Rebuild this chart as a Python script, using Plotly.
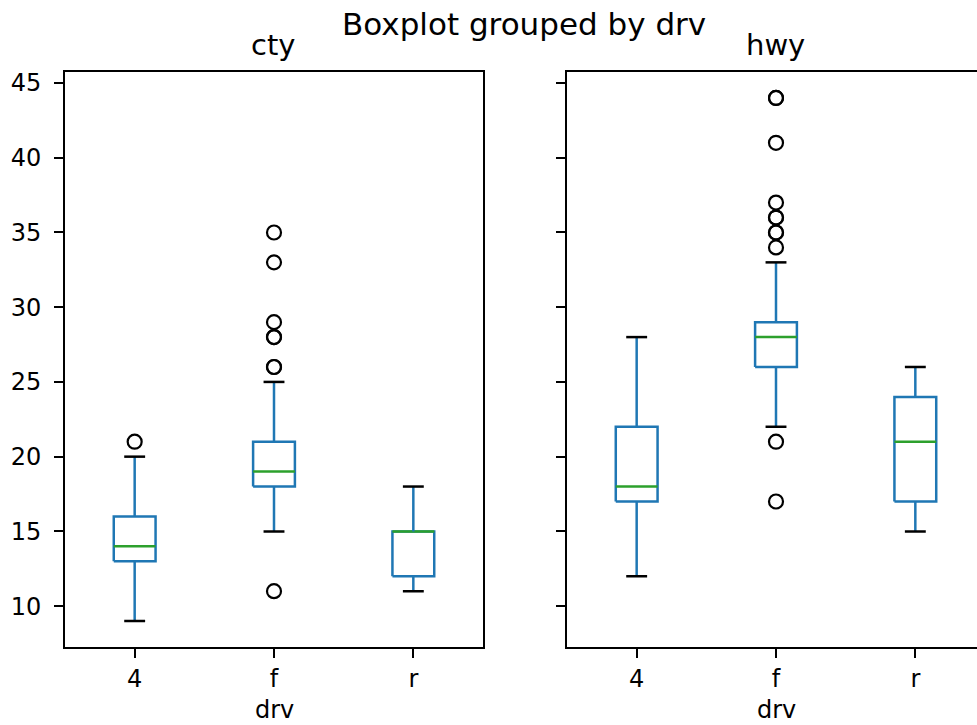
import plotly.graph_objects as go

# Drive-train groups shown on each panel
drv = ["4", "f", "r"]
positions = [1, 2, 3]

# City mileage (cty) box statistics per drive train
cty_whislo = [9, 15, 11]
cty_q1 = [13, 18, 12]
cty_med = [14, 19, 15]
cty_q3 = [16, 21, 15]
cty_whishi = [20, 25, 18]
cty_fliers = [[21], [11, 26, 26, 28, 28, 29, 33, 35], []]

# Highway mileage (hwy) box statistics per drive train
hwy_whislo = [12, 22, 15]
hwy_q1 = [17, 26, 17]
hwy_med = [18, 28, 21]
hwy_q3 = [22, 29, 24]
hwy_whishi = [28, 33, 26]
hwy_fliers = [[], [17, 21, 34, 35, 35, 36, 36, 37, 41, 44, 44], []]

y_ticks = [10, 15, 20, 25, 30, 35, 40, 45]

BLUE = "#1f77b4"
GREEN = "#2ca02c"
BLACK = "#000000"
FONT = "DejaVu Sans"
HALF_BOX = 0.15
HALF_CAP = 0.075
LW = 2.5

W, H = 977, 725


def add_boxes(fig, xa, ya, whislo, q1, med, q3, whishi, fliers):
    bx, by, mx, my, wx, wy, cx, cy, fx, fy = ([] for _ in range(10))
    for p, lo, a, m, b, hi, fl in zip(positions, whislo, q1, med, q3, whishi, fliers):
        bx += [p - HALF_BOX, p + HALF_BOX, p + HALF_BOX, p - HALF_BOX, p - HALF_BOX, None]
        by += [a, a, b, b, a, None]
        mx += [p - HALF_BOX, p + HALF_BOX, None]
        my += [m, m, None]
        wx += [p, p, None, p, p, None]
        wy += [a, lo, None, b, hi, None]
        cx += [p - HALF_CAP, p + HALF_CAP, None, p - HALF_CAP, p + HALF_CAP, None]
        cy += [lo, lo, None, hi, hi, None]
        fx += [p] * len(fl)
        fy += list(fl)
    common = dict(xaxis=xa, yaxis=ya, showlegend=False, hoverinfo="skip")
    fig.add_trace(go.Scatter(x=bx, y=by, mode="lines", line=dict(color=BLUE, width=LW), **common))
    fig.add_trace(go.Scatter(x=mx, y=my, mode="lines", line=dict(color=GREEN, width=LW), **common))
    fig.add_trace(go.Scatter(x=wx, y=wy, mode="lines", line=dict(color=BLUE, width=LW), **common))
    fig.add_trace(go.Scatter(x=cx, y=cy, mode="lines", line=dict(color=BLACK, width=LW), **common))
    fig.add_trace(go.Scatter(
        x=fx, y=fy, mode="markers",
        marker=dict(symbol="circle-open", size=14, color=BLACK, line=dict(color=BLACK, width=2.2)),
        **common))


fig = go.Figure()
add_boxes(fig, "x", "y", cty_whislo, cty_q1, cty_med, cty_q3, cty_whishi, cty_fliers)
add_boxes(fig, "x2", "y2", hwy_whislo, hwy_q1, hwy_med, hwy_q3, hwy_whishi, hwy_fliers)

px_unit = (483 - 65) / 3.0
y_dom = [1 - 647 / H, 1 - 70 / H]

axis_common = dict(
    showgrid=False, zeroline=False, showline=True, linecolor=BLACK, linewidth=2,
    ticks="outside", ticklen=9, tickwidth=2, tickcolor=BLACK,
    tickfont=dict(family=FONT, size=24, color=BLACK),
)

fig.update_layout(
    width=W, height=H,
    margin=dict(l=0, r=0, t=0, b=0),
    paper_bgcolor="white", plot_bgcolor="white",
    xaxis=dict(domain=[65 / W, 483 / W], range=[0.5, 3.5], tickvals=positions, ticktext=drv,
               mirror=True, anchor="y", ticklabelstandoff=0, **axis_common),
    yaxis=dict(domain=y_dom, range=[7.25, 45.75], tickvals=y_ticks, mirror=True, anchor="x",
               ticklabelstandoff=8, **axis_common),
    xaxis2=dict(domain=[567 / W, 1.0], range=[0.5, 0.5 + (W - 567) / px_unit], tickvals=positions,
                ticktext=drv, mirror=True, anchor="y2", ticklabelstandoff=0, **axis_common),
    yaxis2=dict(domain=y_dom, range=[7.25, 45.75], tickvals=y_ticks, showticklabels=False,
                mirror=False, anchor="x2", matches="y", **axis_common),
)

# Figure title and subplot titles
texts = [
    ("Boxplot grouped by drv", 523.5, 22, 31),
    ("cty", 273, 43, 29),
    ("hwy", 775, 43, 29),
]
for txt, xp, yp, size in texts:
    fig.add_annotation(text=txt, x=xp / W, y=1 - yp / H, xref="paper", yref="paper",
                       xanchor="center", yanchor="middle", showarrow=False,
                       font=dict(family=FONT, size=size, color=BLACK))

# x-axis label under each panel, kept inside the bottom edge
for xp in (274, 776):
    fig.add_annotation(text="drv", x=xp / W, y=0, xref="paper", yref="paper",
                       xanchor="center", yanchor="bottom", showarrow=False, borderpad=0,
                       font=dict(family=FONT, size=24, color=BLACK))

fig.write_html("out.html")
